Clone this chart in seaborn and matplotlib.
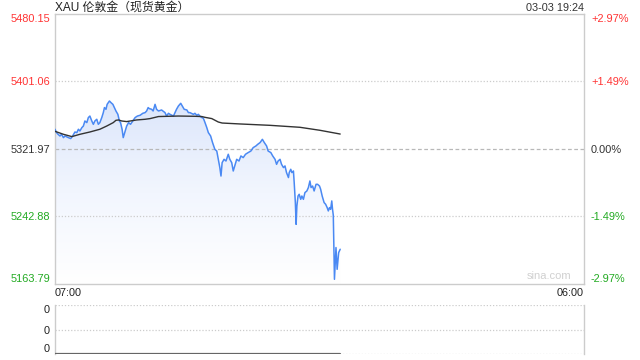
import numpy as np
import pandas as pd
import matplotlib
matplotlib.use("Agg")
import matplotlib.pyplot as plt
import seaborn as sns
from matplotlib.colors import LinearSegmentedColormap

# ---------------- data ----------------
price_times = [
    "07:00", "07:04", "07:08", "07:13", "07:17", "07:22", "07:26", "07:35", "07:41", "07:46",
    "07:52", "07:57", "08:01", "08:05", "08:10", "08:14", "08:18", "08:23", "08:27", "08:31",
    "08:36", "08:40", "08:44", "08:49", "08:53", "08:57", "09:02", "09:06", "09:09", "09:13",
    "09:16", "09:22", "09:26", "09:31", "09:35", "09:39", "09:44", "09:48", "09:51", "09:55",
    "09:58", "10:03", "10:07", "10:12", "10:17", "10:23", "10:29", "10:35", "10:42", "10:49",
    "10:55", "10:59", "11:03", "11:06", "11:12", "11:16", "11:21", "11:25", "11:30", "11:38",
    "11:47", "11:51", "11:56", "12:00", "12:09", "12:13", "12:17", "12:22", "12:28", "12:32",
    "12:37", "12:44", "12:48", "12:52", "13:01", "13:05", "13:10", "13:14", "13:18", "13:23",
    "13:27", "13:31", "13:36", "13:40", "13:46", "13:51", "13:57", "14:02", "14:06", "14:10",
    "14:13", "14:16", "14:21", "14:26", "14:32", "14:36", "14:41", "14:45", "14:50", "14:54",
    "15:00", "15:05", "15:11", "15:17", "15:24", "15:31", "15:37", "15:44", "15:49", "15:55",
    "16:01", "16:06", "16:12", "16:16", "16:23", "16:28", "16:34", "16:38", "16:42", "16:47",
    "16:51", "16:56", "17:00", "17:04", "17:09", "17:11", "17:15", "17:18", "17:22", "17:24",
    "17:27", "17:29", "17:31", "17:34", "17:37", "17:41", "17:44", "17:48", "17:52", "17:57",
    "18:01", "18:05", "18:08", "18:12", "18:16", "18:21", "18:25", "18:30", "18:33", "18:37",
    "18:42", "18:46", "18:50", "18:53", "18:56", "18:59", "19:02", "19:04", "19:06", "19:09",
    "19:13", "19:16", "19:20", "19:24",
]
price_values = [
    5345.1, 5341.2, 5339.2, 5337.2, 5339.2, 5335.3, 5337.2, 5335.3, 5334.2, 5337.2,
    5341.9, 5341.2, 5345.1, 5343.1, 5347.0, 5348.9, 5354.8, 5352.9, 5358.8, 5360.6,
    5354.8, 5350.9, 5354.8, 5356.8, 5350.9, 5352.9, 5358.8, 5364.6, 5370.5, 5368.5,
    5374.3, 5378.2, 5376.3, 5374.3, 5370.5, 5366.5, 5362.6, 5354.8, 5352.9, 5345.1,
    5335.3, 5343.1, 5348.9, 5352.9, 5350.9, 5354.8, 5358.8, 5360.6, 5361.5, 5363.8,
    5364.6, 5366.5, 5370.5, 5369.3, 5368.5, 5366.5, 5374.3, 5368.5, 5366.5, 5367.7,
    5364.6, 5360.6, 5363.8, 5362.6, 5360.6, 5364.6, 5368.5, 5372.4, 5375.5, 5372.4,
    5368.5, 5367.7, 5364.6, 5364.6, 5362.6, 5363.8, 5361.5, 5362.6, 5360.6, 5358.8,
    5358.0, 5353.3, 5347.0, 5341.2, 5337.2, 5329.5, 5321.6, 5319.6, 5309.9, 5300.2,
    5290.3, 5306.0, 5309.9, 5307.9, 5315.8, 5309.9, 5306.0, 5296.2, 5304.0, 5309.9,
    5307.9, 5313.8, 5311.9, 5315.8, 5317.8, 5319.6, 5323.6, 5325.5, 5327.5, 5329.5,
    5333.3, 5329.5, 5325.5, 5319.6, 5317.8, 5313.8, 5309.9, 5304.0, 5307.9, 5309.9,
    5304.0, 5300.2, 5302.1, 5294.3, 5288.5, 5294.3, 5298.2, 5294.3, 5296.2, 5282.6,
    5259.2, 5233.7, 5255.2, 5266.9, 5268.9, 5263.0, 5266.9, 5263.0, 5270.9, 5272.8,
    5276.8, 5284.5, 5276.8, 5278.6, 5272.8, 5280.6, 5280.6, 5278.6, 5274.8, 5266.9,
    5259.2, 5257.2, 5253.3, 5249.4, 5253.3, 5251.3, 5261.1, 5251.3, 5244.3, 5169.3,
    5206.5, 5181.0, 5200.6, 5204.5,
]
avg_times = [
    "07:00", "07:22", "07:44", "08:05", "08:31", "08:57", "09:15", "09:32", "09:39", "09:46",
    "09:54", "10:07", "10:33", "10:55", "11:08", "11:30", "12:22", "13:05", "13:23", "13:31",
    "13:49", "14:06", "14:16", "15:03", "16:21", "17:39", "18:31", "19:24",
]
avg_values = [
    5342.7, 5339.2, 5336.5, 5339.2, 5341.9, 5345.1, 5348.9, 5352.9, 5355.6, 5356.0,
    5354.8, 5354.1, 5356.0, 5356.8, 5357.6, 5360.0, 5360.6, 5360.3, 5360.0, 5359.1,
    5357.6, 5353.6, 5352.4, 5351.3, 5349.7, 5347.4, 5343.9, 5339.5,
]
volume_values = [0] * len(price_times)

price_ticks = [5163.79, 5242.88, 5321.97, 5401.06, 5480.15]
price_tick_labels = ["5163.79", "5242.88", "5321.97", "5401.06", "5480.15"]
pct_tick_labels = ["-2.97%", "-1.49%", "0.00%", "+1.49%", "+2.97%"]
tick_colors = ["#22aa22", "#22aa22", "#333333", "#ff3333", "#ff3333"]
x_tick_labels = ["07:00", "06:00"]
volume_tick_labels = ["0", "0", "0"]
title_text = "XAU 伦敦金（现货黄金）"
stamp_text = "03-03 19:24"


def to_min(s):
    h, m = s.split(":")
    return int(h) * 60 + int(m) - 7 * 60


SESSION_MIN = 23 * 60
df = pd.DataFrame({"t": [to_min(s) for s in price_times], "price": price_values,
                   "vol": volume_values})
dfa = pd.DataFrame({"t": [to_min(s) for s in avg_times], "avg": avg_values})

# ---------------- figure ----------------
sns.set_theme(style="white")
plt.rcParams["font.family"] = ["Liberation Sans", "Noto Sans CJK SC", "DejaVu Sans"]

fig = plt.figure(figsize=(6.4, 3.6), dpi=100)
ax = fig.add_axes([55 / 640, 1 - 284 / 360, 529 / 640, 270 / 360])
axv = fig.add_axes([55 / 640, 1 - 354 / 360, 529 / 640, 49 / 360])

ymin, ymax = price_ticks[0], price_ticks[-1]
ax.set_xlim(0, SESSION_MIN)
ax.set_ylim(ymin, ymax)

# gradient fill under price line
x = df["t"].to_numpy()
y = df["price"].to_numpy()
poly = ax.fill_between(x, y, ymin, color="none", lw=0)
cmap = LinearSegmentedColormap.from_list("g", ["#ffffff", "#f2f6fe", "#dce6fb"])
grad = np.linspace(0, 1, 256).reshape(-1, 1)
im = ax.imshow(grad, cmap=cmap, aspect="auto", origin="lower",
               extent=[x.min(), x.max(), ymin, y.max()], zorder=1)
path = poly.get_paths()[0]
im.set_clip_path(path, transform=ax.transData)
ax.set_xlim(0, SESSION_MIN)
ax.set_ylim(ymin, ymax)

sns.lineplot(data=df, x="t", y="price", ax=ax, color="#4a89f3", lw=1.1, zorder=3)
sns.lineplot(data=dfa, x="t", y="avg", ax=ax, color="#333333", lw=1.0, zorder=4)

# grid lines
for v in price_ticks[1:-1]:
    if v == price_ticks[2]:
        ax.axhline(v, color="#b8b8b8", lw=0.9, ls=(0, (3, 2)), zorder=2)
    else:
        ax.axhline(v, color="#cccccc", lw=0.9, ls=(0, (1, 1.5)), zorder=2)

for s in ax.spines.values():
    s.set_color("#cccccc")
    s.set_linewidth(1.0)
    s.set_visible(True)

ax.set_xlabel("")
ax.set_ylabel("")
ax.set_yticks(price_ticks)
ax.set_yticklabels(price_tick_labels)
ax.tick_params(axis="y", length=0, pad=3.5, labelsize=7.9)
for lab, c in zip(ax.get_yticklabels(), tick_colors):
    lab.set_color(c)
ylabs = ax.get_yticklabels()
ylabs[0].set_va("bottom")
ylabs[-1].set_va("top")

ax.set_xticks([0, SESSION_MIN])
ax.set_xticklabels(x_tick_labels)
ax.tick_params(axis="x", length=0, pad=3, labelsize=7.8, labelcolor="#222222")
xl = ax.get_xticklabels()
xl[0].set_ha("left")
xl[1].set_ha("right")

ax2 = ax.twinx()
ax2.set_ylim(ymin, ymax)
ax2.set_yticks(price_ticks)
ax2.set_yticklabels(pct_tick_labels)
ax2.tick_params(axis="y", length=0, pad=5, labelsize=7.9)
for lab, c in zip(ax2.get_yticklabels(), tick_colors):
    lab.set_color(c)
r = ax2.get_yticklabels()
r[0].set_va("bottom")
r[-1].set_va("top")
for s in ax2.spines.values():
    s.set_visible(False)
ax2.grid(False)

ax.text(0, 1.023, title_text, transform=ax.transAxes, ha="left", va="center",
        fontsize=8.6, color="#222222")
ax.text(1, 1.023, stamp_text, transform=ax.transAxes, ha="right", va="center",
        fontsize=7.8, color="#333333")
ax.text(0.977, 0.012, "sina.com", transform=ax.transAxes, ha="right", va="bottom",
        fontsize=8, color="#d0d0d0")

# volume panel
axv.set_xlim(0, SESSION_MIN)
axv.set_ylim(0, 1)
sns.lineplot(data=df, x="t", y="vol", ax=axv, color="#666666", lw=1.6, zorder=3)
for v in [0.5, 1.0, 0.0]:
    axv.axhline(v, color="#cccccc", lw=0.9, ls=(0, (1, 1.5)), zorder=2)
axv.spines["top"].set_visible(False)
axv.spines["bottom"].set_visible(False)
for side in ["left", "right"]:
    axv.spines[side].set_color("#cccccc")
    axv.spines[side].set_linewidth(1.0)
axv.set_xticks([])
axv.set_xlabel("")
axv.set_ylabel("")
axv.set_yticks([0.0, 0.5, 1.0])
axv.set_yticklabels(volume_tick_labels)
axv.tick_params(axis="y", length=0, pad=4, labelsize=7.9, labelcolor="#222222")
vl = axv.get_yticklabels()
vl[0].set_va("bottom")
vl[-1].set_va("top")

fig.savefig("out.png", dpi=100)
